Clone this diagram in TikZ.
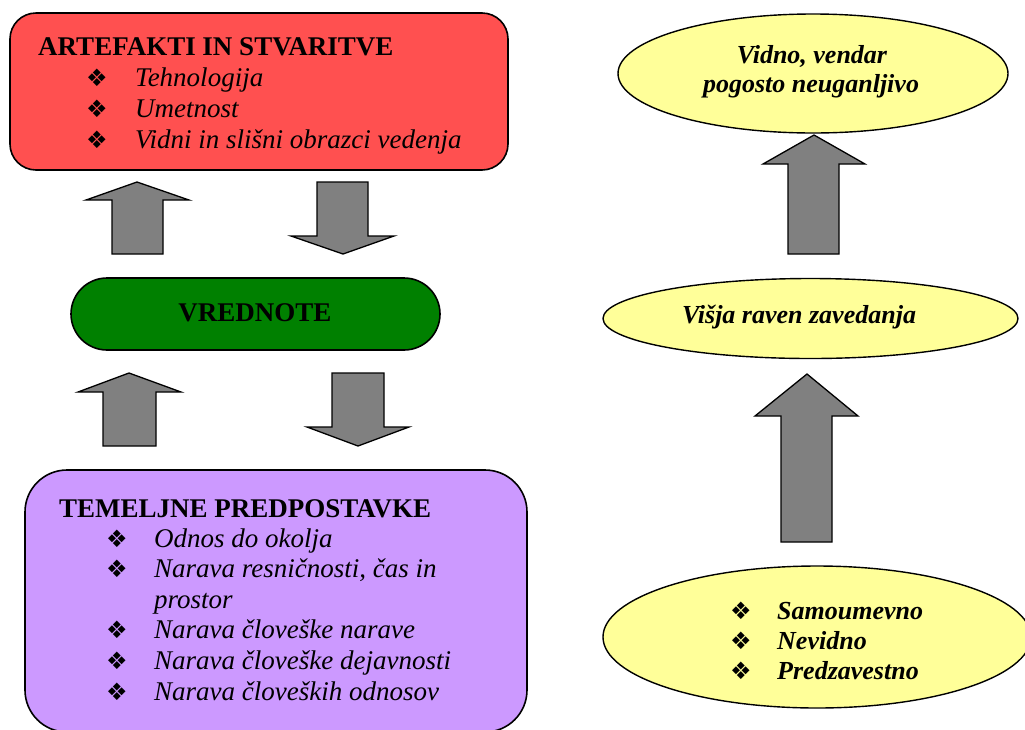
\documentclass[tikz,border=0pt]{standalone}
\usepackage{fontspec}
\setmainfont{Liberation Serif}
\newfontfamily\symfont{DejaVu Sans}
\usetikzlibrary{shapes.geometric}
\definecolor{redfill}{RGB}{255,80,80}
\definecolor{purplefill}{RGB}{204,153,255}
\definecolor{greenfill}{RGB}{0,128,0}
\definecolor{yellowfill}{RGB}{255,255,153}
\definecolor{arrowgray}{RGB}{128,128,128}
\begin{document}
\begin{tikzpicture}[x=1pt,y=-1pt,
  boxnode/.style={draw=black, line width=1.6pt, rectangle, inner sep=0pt},
  ellnode/.style={draw=black, line width=1.4pt, ellipse, fill=yellowfill, inner sep=0pt},
  blockarrow/.style={draw=black, fill=arrowgray, line width=1.3pt, line join=miter},
  titletxt/.style={inner sep=0pt, anchor=base west, font=\fontsize{27}{30}\selectfont\bfseries},
  itemtxt/.style={inner sep=0pt, anchor=base west, font=\fontsize{27}{30}\selectfont\itshape},
  elltxt/.style={inner sep=0pt, anchor=base, font=\fontsize{26}{30}\selectfont\bfseries\itshape},
  bitemtxt/.style={inner sep=0pt, anchor=base west, font=\fontsize{26}{30}\selectfont\bfseries\itshape},
  bul/.style={inner sep=0pt, anchor=base west, font=\symfont\fontsize{24}{24}\selectfont}
]
\useasboundingbox (0,0) rectangle (1025,729);

% ---------- boxes ----------
\node[boxnode, fill=redfill, rounded corners=26pt, minimum width=498pt, minimum height=157pt] (artefakti) at (259,91.5) {};
\node[boxnode, fill=greenfill, rounded corners=36pt, minimum width=369pt, minimum height=72pt] (vrednote) at (255.5,314) {};
\node[boxnode, fill=purplefill, rounded corners=42pt, minimum width=502pt, minimum height=262pt] (temeljne) at (276,601) {};

\node[ellnode, minimum width=390pt, minimum height=119pt] (vidno) at (813,73.5) {};
\node[ellnode, minimum width=415pt, minimum height=80pt] (visja) at (810.5,318.5) {};
\node[ellnode, minimum width=428pt, minimum height=142pt] (samo) at (817,637) {};

% ---------- red box text ----------
\node[titletxt] (t1) at (38,55) {ARTEFAKTI IN STVARITVE};
\node[bul] (b11) at (86,86) {❖};
\node[itemtxt] (i11) at (135,86) {Tehnologija};
\node[bul] (b12) at (86,117) {❖};
\node[itemtxt] (i12) at (135,117) {Umetnost};
\node[bul] (b13) at (86,148) {❖};
\node[itemtxt] (i13) at (135,148) {Vidni in slišni obrazci vedenja};

% ---------- green ----------
\node[inner sep=0pt, anchor=base, font=\fontsize{27}{30}\selectfont\bfseries] (vt) at (255,321) {VREDNOTE};

% ---------- purple box text ----------
\node[titletxt] (t2) at (59,517) {TEMELJNE PREDPOSTAVKE};
\node[bul] (b21) at (106,547) {❖};
\node[itemtxt] (i21) at (154,547) {Odnos do okolja};
\node[bul] (b22) at (106,577.6) {❖};
\node[itemtxt] (i22) at (154,577.6) {Narava resničnosti, čas in};
\node[itemtxt] (i22b) at (154,608.2) {prostor};
\node[bul] (b23) at (106,638.8) {❖};
\node[itemtxt] (i23) at (154,638.8) {Narava človeške narave};
\node[bul] (b24) at (106,669.4) {❖};
\node[itemtxt] (i24) at (154,669.4) {Narava človeške dejavnosti};
\node[bul] (b25) at (106,700) {❖};
\node[itemtxt] (i25) at (154,700) {Narava človeških odnosov};

% ---------- ellipse texts ----------
\node[elltxt] (e11) at (812,63) {Vidno, vendar};
\node[elltxt] (e12) at (811,92) {pogosto neuganljivo};
\node[elltxt] (e21) at (799,323) {Višja raven zavedanja};
\node[bul] (b31) at (730,619) {❖};
\node[bitemtxt] (e31) at (777,619) {Samoumevno};
\node[bul] (b32) at (730,649) {❖};
\node[bitemtxt] (e32) at (777,649) {Nevidno};
\node[bul] (b33) at (730,679) {❖};
\node[bitemtxt] (e33) at (777,679) {Predzavestno};

% ---------- block arrows ----------
\draw[blockarrow] (112,254) -- (112,200) -- (86,200) -- (137,182) -- (189,200) -- (163,200) -- (163,254) -- cycle;
\draw[blockarrow] (317,182) -- (317,236) -- (291,236) -- (343,254) -- (394,236) -- (368,236) -- (368,182) -- cycle;
\draw[blockarrow] (103,446) -- (103,392) -- (78,392) -- (129,373) -- (181,392) -- (156,392) -- (156,446) -- cycle;
\draw[blockarrow] (332,373) -- (332,427) -- (307,427) -- (358,446) -- (409,427) -- (384,427) -- (384,373) -- cycle;
\draw[blockarrow] (788,254) -- (788,164) -- (763,164) -- (814,135) -- (865,164) -- (839,164) -- (839,254) -- cycle;
\draw[blockarrow] (781,542) -- (781,416) -- (755,416) -- (807,374) -- (858,416) -- (832,416) -- (832,542) -- cycle;
\end{tikzpicture}
\end{document}
